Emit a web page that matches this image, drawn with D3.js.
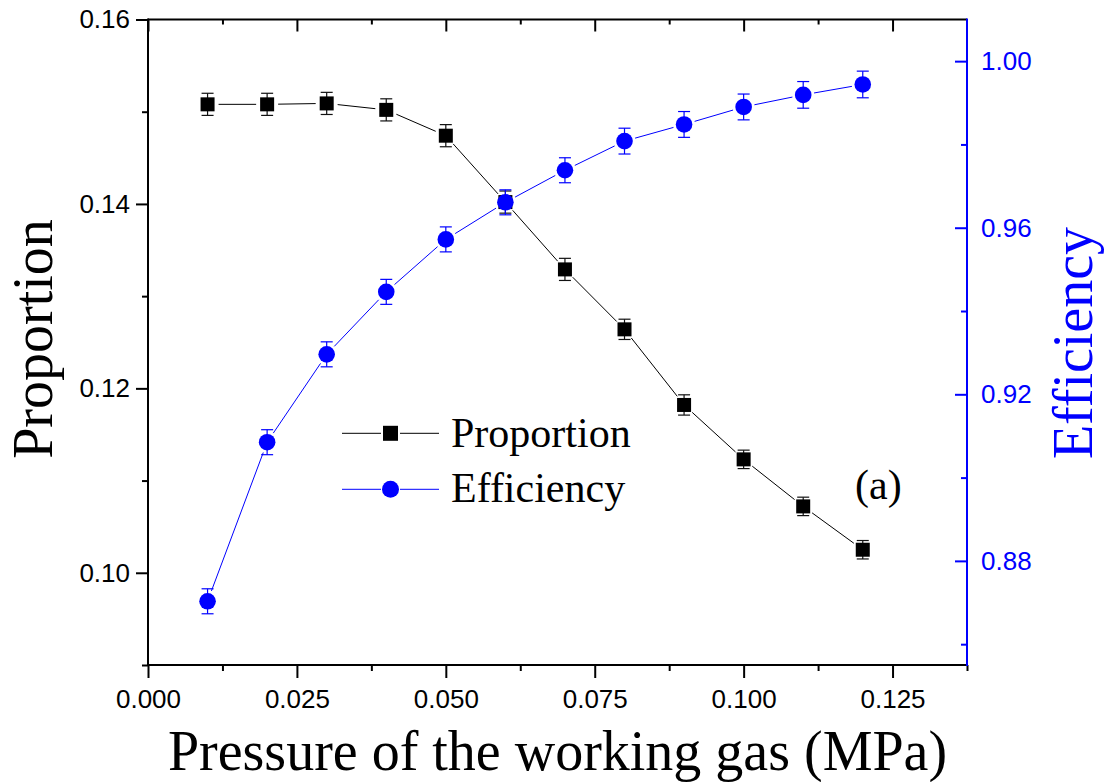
<!DOCTYPE html>
<html>
<head>
<meta charset="utf-8">
<script src="https://cdn.jsdelivr.net/npm/d3@7"></script>
<style>
  html, body { margin: 0; padding: 0; background: #fff; }
  svg { display: block; }
</style>
</head>
<body>
<svg id="chart" width="1104" height="782"></svg>
<script>
// Working-gas pressure (MPa)
const pressure = [0.01, 0.02, 0.03, 0.04, 0.05, 0.06, 0.07, 0.08, 0.09, 0.10, 0.11, 0.12];
// Proportion (left axis) with error
const proportion    = [0.1508, 0.1508, 0.1509, 0.1502, 0.1474, 0.1402, 0.1329, 0.1264, 0.1182, 0.1123, 0.1072, 0.1025];
const proportionErr = [0.0012, 0.0012, 0.0012, 0.0012, 0.0012, 0.0012, 0.0012, 0.0011, 0.0011, 0.0010, 0.0010, 0.0010];
// Efficiency (right axis) with error
const efficiency    = [0.8703, 0.9085, 0.9296, 0.9446, 0.9572, 0.9661, 0.9738, 0.9808, 0.9848, 0.9890, 0.9919, 0.9944];
const efficiencyErr = [0.0030, 0.0030, 0.0030, 0.0030, 0.0030, 0.0030, 0.0030, 0.0031, 0.0031, 0.0031, 0.0032, 0.0032];

// Tick values
const xMajor = [0, 0.025, 0.05, 0.075, 0.1, 0.125];
const xMinor = [0.0125, 0.0375, 0.0625, 0.0875, 0.1125, 0.1375];
const propMajor = [0.10, 0.12, 0.14, 0.16];
const propMinor = [0.09, 0.11, 0.13, 0.15];
const effMajor = [0.88, 0.92, 0.96, 1.00];
const effMinor = [0.86, 0.90, 0.94, 0.98];

const BLUE = "#0000ff";
const SANS = "'Liberation Sans', Arial, sans-serif";
const SERIF = "'Liberation Serif', 'Times New Roman', serif";

const L = 148, R = 967, T = 19.5, B = 665;

const svg = d3.select("#chart");
svg.append("rect").attr("width", 1104).attr("height", 782).attr("fill", "#fff");

const x = d3.scaleLinear().domain([0, 0.1375]).range([L, R]);
const yP = d3.scaleLinear().domain([0.09, 0.16]).range([B, T]);
const yE = d3.scaleLinear().domain([0.855, 1.01]).range([B, T]);

function styleAxis(g, color) {
  g.select(".domain").remove();
  g.selectAll(".tick line").attr("stroke", color).attr("stroke-width", 2);
  g.selectAll(".tick text").attr("fill", color)
    .style("font-family", SANS).style("font-size", "26px");
}

// Bottom axis
svg.append("g").attr("transform", `translate(0,${B})`)
  .call(d3.axisBottom(x).tickValues(xMajor).tickSize(13).tickPadding(12)
    .tickFormat(d3.format(".3f")))
  .call(g => styleAxis(g, "#000"));
svg.append("g").attr("transform", `translate(0,${B})`)
  .call(d3.axisBottom(x).tickValues(xMinor).tickSize(6).tickFormat(""))
  .call(g => styleAxis(g, "#000"));

// Top axis (ticks inward)
svg.append("g").attr("transform", `translate(0,${T})`)
  .call(d3.axisTop(x).tickValues(xMajor).tickSize(-12).tickFormat(""))
  .call(g => styleAxis(g, "#000"));
svg.append("g").attr("transform", `translate(0,${T})`)
  .call(d3.axisTop(x).tickValues(xMinor.filter(v => v < 0.137)).tickSize(-5).tickFormat(""))
  .call(g => styleAxis(g, "#000"));

// Left axis
svg.append("g").attr("transform", `translate(${L},0)`)
  .call(d3.axisLeft(yP).tickValues(propMajor).tickSize(12).tickPadding(6)
    .tickFormat(d3.format(".2f")))
  .call(g => styleAxis(g, "#000"));
svg.append("g").attr("transform", `translate(${L},0)`)
  .call(d3.axisLeft(yP).tickValues(propMinor).tickSize(6).tickFormat(""))
  .call(g => styleAxis(g, "#000"));

// Right axis (ticks inward, labels outside)
svg.append("g").attr("transform", `translate(${R},0)`)
  .call(d3.axisRight(yE).tickValues(effMajor).tickSize(-12).tickPadding(14)
    .tickFormat(d3.format(".2f")))
  .call(g => styleAxis(g, BLUE));
svg.append("g").attr("transform", `translate(${R},0)`)
  .call(d3.axisRight(yE).tickValues(effMinor).tickSize(-6).tickFormat(""))
  .call(g => styleAxis(g, BLUE));

// Frame lines
svg.append("line").attr("x1", L).attr("x2", R).attr("y1", B).attr("y2", B)
  .attr("stroke", "#000").attr("stroke-width", 2);
svg.append("line").attr("x1", L).attr("x2", R).attr("y1", T).attr("y2", T)
  .attr("stroke", "#000").attr("stroke-width", 2);
svg.append("line").attr("x1", L).attr("x2", L).attr("y1", T - 1).attr("y2", B + 1)
  .attr("stroke", "#000").attr("stroke-width", 2);
svg.append("line").attr("x1", R).attr("x2", R).attr("y1", T - 1).attr("y2", B + 1)
  .attr("stroke", BLUE).attr("stroke-width", 2);

// Connecting segments trimmed short of the markers
function drawSegments(values, yScale, color, gap) {
  const pts = pressure.map((p, i) => [x(p), yScale(values[i])]);
  const segs = d3.pairs(pts).map(([a, b]) => {
    const dx = b[0] - a[0], dy = b[1] - a[1];
    const len = Math.hypot(dx, dy);
    const ux = dx / len, uy = dy / len;
    return [a[0] + ux * gap, a[1] + uy * gap, b[0] - ux * gap, b[1] - uy * gap];
  });
  svg.append("g").selectAll("line").data(segs).join("line")
    .attr("x1", d => d[0]).attr("y1", d => d[1])
    .attr("x2", d => d[2]).attr("y2", d => d[3])
    .attr("stroke", color).attr("stroke-width", 1);
}

function drawErrorBars(values, errs, yScale, color) {
  const g = svg.append("g").attr("stroke", color).attr("stroke-width", 1.2);
  pressure.forEach((p, i) => {
    const cx = x(p);
    const y1 = yScale(values[i] + errs[i]);
    const y2 = yScale(values[i] - errs[i]);
    g.append("line").attr("x1", cx).attr("x2", cx).attr("y1", y1).attr("y2", y2);
    g.append("line").attr("x1", cx - 6).attr("x2", cx + 6).attr("y1", y1).attr("y2", y1);
    g.append("line").attr("x1", cx - 6).attr("x2", cx + 6).attr("y1", y2).attr("y2", y2);
  });
}

// Proportion series
drawSegments(proportion, yP, "#000", 11);
drawErrorBars(proportion, proportionErr, yP, "#111");
svg.append("g").selectAll("rect").data(pressure).join("rect")
  .attr("x", (d) => x(d) - 7).attr("y", (d, i) => yP(proportion[i]) - 7)
  .attr("width", 14).attr("height", 14).attr("fill", "#000");

// Efficiency series
drawSegments(efficiency, yE, BLUE, 11);
drawErrorBars(efficiency, efficiencyErr, yE, BLUE);
svg.append("g").selectAll("circle").data(pressure).join("circle")
  .attr("cx", d => x(d)).attr("cy", (d, i) => yE(efficiency[i]))
  .attr("r", 8.3).attr("fill", BLUE);

// Legend
const legend = svg.append("g");
const legendItems = [
  { name: "Proportion", color: "#000", shape: "square", y: 433.3, base: 446.7 },
  { name: "Efficiency", color: BLUE, shape: "circle", y: 489.3, base: 501.7 }
];
legendItems.forEach(it => {
  legend.append("line").attr("x1", 342).attr("x2", 381).attr("y1", it.y).attr("y2", it.y)
    .attr("stroke", it.color).attr("stroke-width", 1);
  legend.append("line").attr("x1", 400).attr("x2", 439).attr("y1", it.y).attr("y2", it.y)
    .attr("stroke", it.color).attr("stroke-width", 1);
  if (it.shape === "square") {
    legend.append("rect").attr("x", 383).attr("y", it.y - 7.5).attr("width", 15).attr("height", 15)
      .attr("fill", it.color);
  } else {
    legend.append("circle").attr("cx", 390.5).attr("cy", it.y).attr("r", 8.5).attr("fill", it.color);
  }
  legend.append("text").attr("x", 451).attr("y", it.base).text(it.name)
    .style("font-family", SERIF).style("font-size", "42px").attr("fill", "#000");
});

// Panel label
svg.append("text").attr("x", 855).attr("y", 499).text("(a)")
  .style("font-family", SERIF).style("font-size", "42px").attr("fill", "#000");

// Axis titles
svg.append("text").attr("x", (L + R) / 2).attr("y", 770).attr("text-anchor", "middle")
  .text("Pressure of the working gas (MPa)")
  .style("font-family", SERIF).style("font-size", "56px").attr("fill", "#000");
svg.append("text").attr("transform", "translate(52,339) rotate(-90)").attr("text-anchor", "middle")
  .text("Proportion")
  .style("font-family", SERIF).style("font-size", "56px").attr("fill", "#000");
svg.append("text").attr("transform", "translate(1092,343) rotate(-90)").attr("text-anchor", "middle")
  .text("Efficiency")
  .style("font-family", SERIF).style("font-size", "56px").attr("fill", BLUE);
</script>
</body>
</html>
